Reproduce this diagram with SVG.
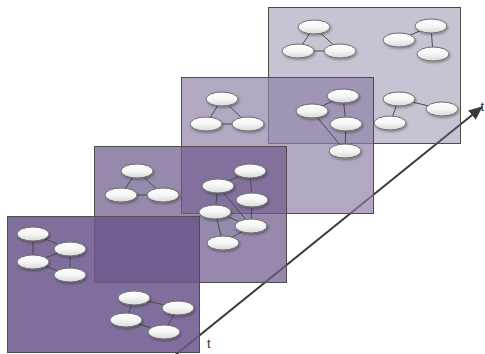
<svg xmlns="http://www.w3.org/2000/svg" width="485" height="354" viewBox="0 0 485 354">
<defs>
<linearGradient id="ng" x1="0" y1="0" x2="0" y2="1">
<stop offset="0" stop-color="#ffffff"/>
<stop offset="0.5" stop-color="#f6f6f6"/>
<stop offset="1" stop-color="#d9d9d9"/>
</linearGradient>
<filter id="sh" x="-30%" y="-50%" width="160%" height="200%">
<feDropShadow dx="1" dy="1.5" stdDeviation="0.8" flood-color="#000" flood-opacity="0.35"/>
</filter>
<marker id="ah" markerWidth="14" markerHeight="12" refX="13" refY="6" orient="auto" markerUnits="userSpaceOnUse" viewBox="0 0 14 12">
<path d="M0,0 L14,6 L0,12 z" fill="#3a3a3a"/>
</marker>
</defs>
<style>
.panel{stroke:#4d4d4d;stroke-width:1}
.edge{stroke:#4a4a4a;stroke-width:1;fill:none}
.node ellipse{fill:url(#ng);stroke:#6e6e6e;stroke-width:1;filter:url(#sh)}
.lbl{font-family:"Liberation Sans",Arial,sans-serif;font-size:13px;fill:#333333}
</style>
<rect width="485" height="354" fill="#ffffff"/>
<g id="connectors-time">
<line x1="174" y1="356" x2="482" y2="107" stroke="#3a3a3a" stroke-width="2" marker-end="url(#ah)"/>
</g>

<g id="frame4">
<rect class="panel" x="268.5" y="7.5" width="192" height="136" fill="#76698f" fill-opacity="0.4"/>
<g class="connectors">
<line class="edge" x1="314" y1="27" x2="298" y2="51"/>
<line class="edge" x1="314" y1="27" x2="340" y2="51"/>
<line class="edge" x1="298" y1="51" x2="340" y2="51"/>
<line class="edge" x1="399" y1="40" x2="431" y2="26"/>
<line class="edge" x1="431" y1="26" x2="433" y2="54"/>
<line class="edge" x1="399" y1="99" x2="442" y2="109"/>
<line class="edge" x1="399" y1="99" x2="390" y2="123"/>
</g>
<g id="f4a1" class="node"><ellipse cx="314" cy="27" rx="16" ry="7"/></g>
<g id="f4a2" class="node"><ellipse cx="298" cy="51" rx="16" ry="7"/></g>
<g id="f4a3" class="node"><ellipse cx="340" cy="51" rx="16" ry="7"/></g>
<g id="f4b1" class="node"><ellipse cx="431" cy="26" rx="16" ry="7"/></g>
<g id="f4b2" class="node"><ellipse cx="399" cy="40" rx="16" ry="7"/></g>
<g id="f4b3" class="node"><ellipse cx="433" cy="54" rx="16" ry="7"/></g>
<g id="f4c1" class="node"><ellipse cx="399" cy="99" rx="16" ry="7"/></g>
<g id="f4c2" class="node"><ellipse cx="442" cy="109" rx="16" ry="7"/></g>
<g id="f4c3" class="node"><ellipse cx="390" cy="123" rx="16" ry="7"/></g>
</g>

<g id="frame3">
<rect class="panel" x="181.5" y="77.5" width="192" height="136" fill="#8e7fa5" fill-opacity="0.68"/>
<g class="connectors">
<line class="edge" x1="222" y1="99" x2="206" y2="124"/>
<line class="edge" x1="222" y1="99" x2="248" y2="124"/>
<line class="edge" x1="206" y1="124" x2="248" y2="124"/>
<line class="edge" x1="312" y1="111" x2="343" y2="96"/>
<line class="edge" x1="343" y1="96" x2="346" y2="124"/>
<line class="edge" x1="346" y1="124" x2="345" y2="151"/>
<line class="edge" x1="312" y1="111" x2="345" y2="151"/>
</g>
<g id="f3a1" class="node"><ellipse cx="222" cy="99" rx="16" ry="7"/></g>
<g id="f3a2" class="node"><ellipse cx="206" cy="124" rx="16" ry="7"/></g>
<g id="f3a3" class="node"><ellipse cx="248" cy="124" rx="16" ry="7"/></g>
<g id="f3b1" class="node"><ellipse cx="343" cy="96" rx="16" ry="7"/></g>
<g id="f3b2" class="node"><ellipse cx="312" cy="111" rx="16" ry="7"/></g>
<g id="f3b3" class="node"><ellipse cx="346" cy="124" rx="16" ry="7"/></g>
<g id="f3b4" class="node"><ellipse cx="345" cy="151" rx="16" ry="7"/></g>
</g>

<g id="frame2">
<rect class="panel" x="94.5" y="146.5" width="192" height="136" fill="#6f5d8d" fill-opacity="0.73"/>
<g class="connectors">
<line class="edge" x1="137" y1="171" x2="121" y2="195"/>
<line class="edge" x1="137" y1="171" x2="163" y2="195"/>
<line class="edge" x1="121" y1="195" x2="163" y2="195"/>
<line class="edge" x1="218" y1="186" x2="250" y2="171"/>
<line class="edge" x1="250" y1="171" x2="252" y2="200"/>
<line class="edge" x1="218" y1="186" x2="215" y2="212"/>
<line class="edge" x1="218" y1="186" x2="251" y2="226"/>
<line class="edge" x1="252" y1="200" x2="251" y2="226"/>
<line class="edge" x1="215" y1="212" x2="251" y2="226"/>
<line class="edge" x1="215" y1="212" x2="223" y2="243"/>
<line class="edge" x1="223" y1="243" x2="251" y2="226"/>
</g>
<g id="f2a1" class="node"><ellipse cx="137" cy="171" rx="16" ry="7"/></g>
<g id="f2a2" class="node"><ellipse cx="121" cy="195" rx="16" ry="7"/></g>
<g id="f2a3" class="node"><ellipse cx="163" cy="195" rx="16" ry="7"/></g>
<g id="f2b1" class="node"><ellipse cx="250" cy="171" rx="16" ry="7"/></g>
<g id="f2b2" class="node"><ellipse cx="218" cy="186" rx="16" ry="7"/></g>
<g id="f2b3" class="node"><ellipse cx="252" cy="200" rx="16" ry="7"/></g>
<g id="f2b4" class="node"><ellipse cx="215" cy="212" rx="16" ry="7"/></g>
<g id="f2b5" class="node"><ellipse cx="251" cy="226" rx="16" ry="7"/></g>
<g id="f2b6" class="node"><ellipse cx="223" cy="243" rx="16" ry="7"/></g>
</g>

<g id="frame1">
<rect class="panel" x="7.5" y="216.5" width="192" height="136" fill="#6b578d" fill-opacity="0.86"/>
<g class="connectors">
<line class="edge" x1="33" y1="234" x2="33" y2="262"/>
<line class="edge" x1="33" y1="234" x2="70" y2="249"/>
<line class="edge" x1="33" y1="262" x2="70" y2="249"/>
<line class="edge" x1="70" y1="249" x2="70" y2="275"/>
<line class="edge" x1="33" y1="262" x2="70" y2="275"/>
<line class="edge" x1="134" y1="298" x2="178" y2="308"/>
<line class="edge" x1="134" y1="298" x2="126" y2="320"/>
<line class="edge" x1="126" y1="320" x2="164" y2="332"/>
<line class="edge" x1="178" y1="308" x2="164" y2="332"/>
</g>
<g id="f1a1" class="node"><ellipse cx="33" cy="234" rx="16" ry="7"/></g>
<g id="f1a2" class="node"><ellipse cx="70" cy="249" rx="16" ry="7"/></g>
<g id="f1a3" class="node"><ellipse cx="33" cy="262" rx="16" ry="7"/></g>
<g id="f1a4" class="node"><ellipse cx="70" cy="275" rx="16" ry="7"/></g>
<g id="f1b1" class="node"><ellipse cx="134" cy="298" rx="16" ry="7"/></g>
<g id="f1b2" class="node"><ellipse cx="178" cy="308" rx="16" ry="7"/></g>
<g id="f1b3" class="node"><ellipse cx="126" cy="320" rx="16" ry="7"/></g>
<g id="f1b4" class="node"><ellipse cx="164" cy="332" rx="16" ry="7"/></g>
</g>

<text class="lbl" x="207" y="348">t</text>
<text class="lbl" x="480.5" y="111">t</text>
</svg>
